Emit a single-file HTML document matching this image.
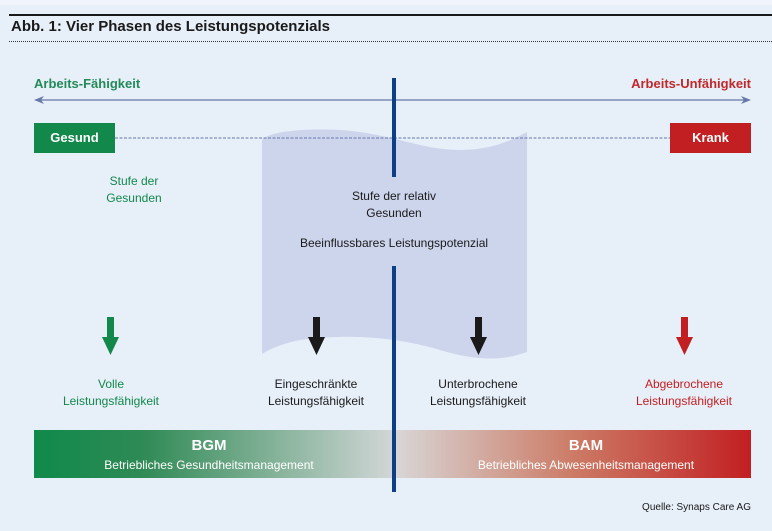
<!DOCTYPE html>
<html><head><meta charset="utf-8"><style>
body{margin:0;width:772px;height:531px;background:#e7eff9;position:relative;overflow:hidden;font-family:"Liberation Sans",sans-serif}
.a{position:absolute}
.t{position:absolute;font-size:12px;text-align:center;line-height:17px;white-space:nowrap}
</style></head><body>
<div class="a" style="left:0;top:0;width:772px;height:5px;background:#f1f5fb"></div>
<div class="a" style="left:9px;top:14px;width:763px;height:2px;background:#1a1a1a"></div>
<div class="a" style="left:11px;top:18px;font-size:15px;font-weight:bold;color:#1a1a1a;letter-spacing:0px">Abb. 1: Vier Phasen des Leistungspotenzials</div>
<div class="a" style="left:9px;top:41px;width:763px;border-top:1.5px dotted #333"></div>

<svg class="a" style="left:0;top:0" width="772" height="531">
  <path d="M262,140 C268,132 300,128 340,130 C390,133 420,150 460,150 C495,150 515,138 527,132 L527,352 C505,360 480,362 440,350 C400,338 350,333 300,340 C280,344 268,350 262,354 Z" fill="#cdd5ed"/>
  <line x1="40" y1="100" x2="746" y2="100" stroke="#6679a8" stroke-width="1.2"/>
  <path d="M34,100 L44,96 L41,100 L44,104 Z" fill="#6679a8"/>
  <path d="M751,100 L741,96 L744,100 L741,104 Z" fill="#6679a8"/>
  <line x1="115" y1="138" x2="670" y2="138" stroke="#6679a8" stroke-width="1" stroke-dasharray="3,1.5"/>
  <defs>
    <linearGradient id="g1" x1="0" x2="1"><stop offset="0" stop-color="#0f8a4a"/><stop offset="0.3" stop-color="#2f8a55"/><stop offset="1" stop-color="#d3d7d8"/></linearGradient>
    <linearGradient id="g2" x1="0" x2="1"><stop offset="0" stop-color="#d8d6d6"/><stop offset="0.5" stop-color="#cc7b66"/><stop offset="1" stop-color="#c21f22"/></linearGradient>
  </defs>
  <rect x="34" y="430" width="362" height="48" fill="url(#g1)"/>
  <rect x="396" y="430" width="355" height="48" fill="url(#g2)"/>
  <rect x="392" y="78" width="4" height="99" fill="#0d3f86"/>
  <rect x="392" y="266" width="4" height="226" fill="#0d3f86"/>
  <g>
    <path d="M107,317 h7 v20 h5 l-8.5,18 l-8.5,-18 h5 z" fill="#12884a"/>
    <path d="M313,317 h7 v20 h5 l-8.5,18 l-8.5,-18 h5 z" fill="#1a1a1a"/>
    <path d="M475,317 h7 v20 h5 l-8.5,18 l-8.5,-18 h5 z" fill="#1a1a1a"/>
    <path d="M681,317 h7 v20 h5 l-8.5,18 l-8.5,-18 h5 z" fill="#c21f22"/>
  </g>
</svg>

<div class="a" style="left:34px;top:76px;font-size:13px;font-weight:bold;color:#238a58">Arbeits-Fähigkeit</div>
<div class="a" style="right:21px;top:76px;font-size:13px;font-weight:bold;color:#c0282a">Arbeits-Unfähigkeit</div>
<div class="a" style="left:34px;top:123px;width:81px;height:30px;background:#12884a;color:#fff;font-weight:bold;font-size:13px;line-height:30px;text-align:center">Gesund</div>
<div class="a" style="left:670px;top:123px;width:81px;height:30px;background:#c21f22;color:#fff;font-weight:bold;font-size:13px;line-height:30px;text-align:center">Krank</div>

<div class="t" style="left:84px;top:173px;width:100px;color:#12884a">Stufe der<br>Gesunden</div>
<div class="t" style="left:294px;top:188px;width:200px;color:#1a1a1a">Stufe der relativ<br>Gesunden</div>
<div class="t" style="left:274px;top:235px;width:240px;color:#1a1a1a">Beeinflussbares Leistungspotenzial</div>

<div class="t" style="left:51px;top:376px;width:120px;color:#12884a">Volle<br>Leistungsfähigkeit</div>
<div class="t" style="left:256px;top:376px;width:120px;color:#1a1a1a">Eingeschränkte<br>Leistungsfähigkeit</div>
<div class="t" style="left:418px;top:376px;width:120px;color:#1a1a1a">Unterbrochene<br>Leistungsfähigkeit</div>
<div class="t" style="left:624px;top:376px;width:120px;color:#c21f22">Abgebrochene<br>Leistungsfähigkeit</div>

<div class="t" style="left:109px;top:437px;width:200px;color:#fff;font-weight:bold;font-size:15px">BGM</div>
<div class="t" style="left:59px;top:457px;width:300px;color:#fff">Betriebliches Gesundheitsmanagement</div>
<div class="t" style="left:486px;top:437px;width:200px;color:#fff;font-weight:bold;font-size:15px">BAM</div>
<div class="t" style="left:436px;top:457px;width:300px;color:#fff">Betriebliches Abwesenheitsmanagement</div>

<div class="a" style="right:21px;top:502px;font-size:10px;color:#1a1a1a">Quelle: Synaps Care AG</div>
</body></html>
